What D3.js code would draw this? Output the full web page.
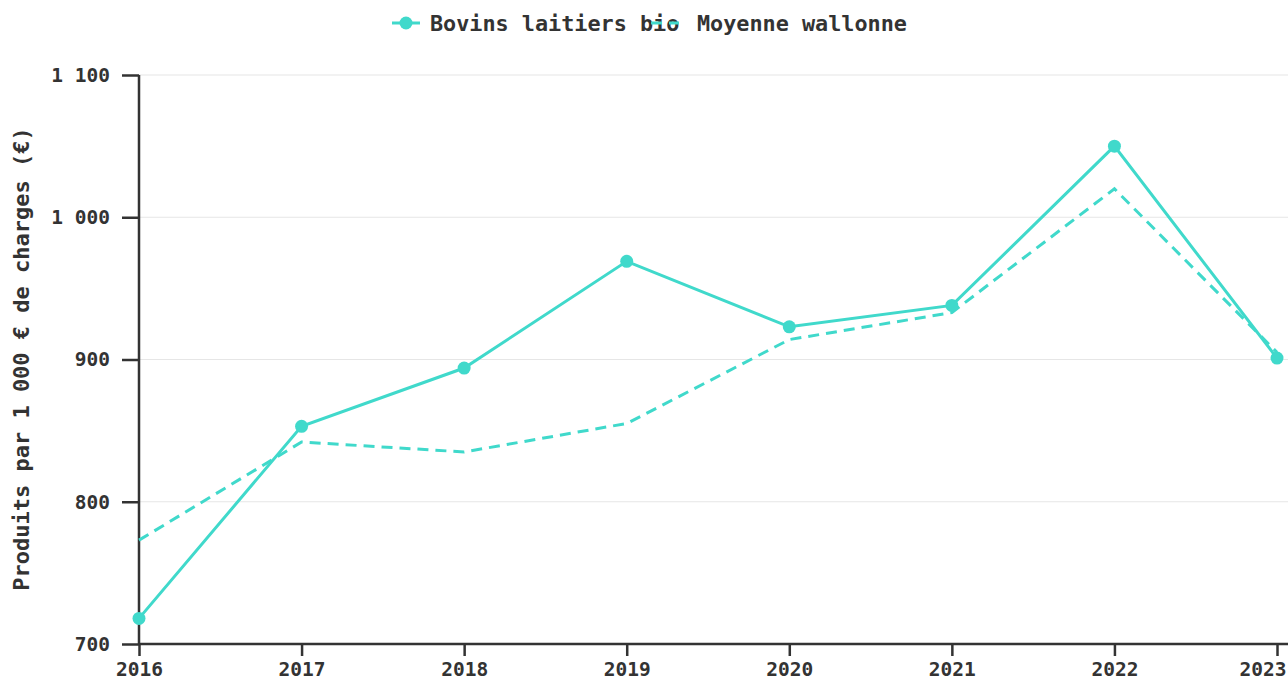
<!DOCTYPE html>
<html>
<head>
<meta charset="utf-8">
<script src="https://cdn.jsdelivr.net/npm/d3@7"></script>
<style>
    body { margin: 0; background: #fff; }
    svg text { font-family: "DejaVu Sans Mono", monospace; font-weight: bold; fill: #333; }
</style>
</head>
<body>
<script>
// data
const years = [2016, 2017, 2018, 2019, 2020, 2021, 2022, 2023];
const bioValues = [718, 853, 894, 969, 923, 938, 1050, 901];
const avgValues = [773, 842, 835, 855, 914, 933, 1020, 905];
const yTicks = [700, 800, 900, 1000, 1100];
const seriesNames = ["Bovins laitiers bio", "Moyenne wallonne"];

function init() {
    "use strict";

    const w = 1288;
    const h = 680;
    const color = "#40d9cb";
    const ink = "#333";

    const svg = d3.select("body")
        .append("svg")
            .attr("width", w)
            .attr("height", h);

    // scales
    const xScale = d3.scaleLinear()
        .domain([2016, 2023])
        .range([139, 1277]);
    const yScale = d3.scaleLinear()
        .domain([700, 1100])
        .range([644, 75]);

    const fr = d3.formatLocale({ decimal: ",", thousands: " ", grouping: [3], currency: ["", " €"] });
    const fmt = fr.format(",d");

    // gridlines
    svg.append("g")
        .selectAll("line")
        .data(yTicks.slice(1))
        .enter()
        .append("line")
            .attr("x1", 139)
            .attr("x2", w)
            .attr("y1", d => yScale(d))
            .attr("y2", d => yScale(d))
            .attr("stroke", "#e6e6e6")
            .attr("stroke-width", 1.2);

    // axes
    const xAxis = d3.axisBottom(xScale)
        .tickValues(years)
        .tickFormat(d3.format("d"))
        .tickSize(12)
        .tickPadding(6);
    const yAxis = d3.axisLeft(yScale)
        .tickValues(yTicks)
        .tickFormat(fmt)
        .tickSize(17)
        .tickPadding(12);

    const gx = svg.append("g")
        .attr("transform", "translate(0," + yScale(700) + ")")
        .call(xAxis);
    const gy = svg.append("g")
        .attr("transform", "translate(" + xScale(2016) + ",0)")
        .call(yAxis);

    gx.select(".domain").remove();
    gy.select(".domain").remove();
    [gx, gy].forEach(g => {
        g.selectAll(".tick line").attr("stroke", ink).attr("stroke-width", 2.5);
        g.selectAll(".tick text")
            .attr("fill", ink)
            .style("font-family", "'DejaVu Sans Mono', monospace")
            .style("font-weight", "bold")
            .style("font-size", "19.5px");
    });
    // keep the last year label inside the picture
    gx.selectAll(".tick text")
        .filter(d => d === years[years.length - 1])
        .attr("text-anchor", "end")
        .attr("x", w - 2 - xScale(2023));

    svg.append("line")
        .attr("x1", xScale(2016)).attr("x2", w)
        .attr("y1", yScale(700)).attr("y2", yScale(700))
        .attr("stroke", ink).attr("stroke-width", 2.5);
    svg.append("line")
        .attr("x1", xScale(2016)).attr("x2", xScale(2016))
        .attr("y1", yScale(1100)).attr("y2", yScale(700) + 1)
        .attr("stroke", ink).attr("stroke-width", 2.5);

    // y label
    svg.append("text")
        .attr("transform", "translate(29," + 359 + ") rotate(-90)")
        .attr("text-anchor", "middle")
        .style("font-size", "22px")
        .text("Produits par 1 000 € de charges (€)");

    // lines
    const line = d3.line()
        .x(d => xScale(d[0]))
        .y(d => yScale(d[1]));

    svg.append("path")
        .datum(years.map((y, i) => [y, avgValues[i]]))
        .attr("d", line)
        .attr("fill", "none")
        .attr("stroke", color)
        .attr("stroke-width", 3)
        .attr("stroke-dasharray", "11,7");

    svg.append("path")
        .datum(years.map((y, i) => [y, bioValues[i]]))
        .attr("d", line)
        .attr("fill", "none")
        .attr("stroke", color)
        .attr("stroke-width", 3);

    svg.selectAll("circle.bio")
        .data(years.map((y, i) => [y, bioValues[i]]))
        .enter()
        .append("circle")
            .attr("class", "bio")
            .attr("cx", d => xScale(d[0]))
            .attr("cy", d => yScale(d[1]))
            .attr("r", 6.5)
            .attr("fill", color);

    // legend
    const lg = svg.append("g");
    lg.append("line")
        .attr("x1", 392).attr("x2", 420).attr("y1", 23).attr("y2", 23)
        .attr("stroke", color).attr("stroke-width", 3);
    lg.append("circle")
        .attr("cx", 406).attr("cy", 23).attr("r", 6.5).attr("fill", color);
    lg.append("text")
        .attr("x", 430).attr("y", 23).attr("dy", "0.35em")
        .style("font-size", "21.8px")
        .text(seriesNames[0]);
    lg.append("line")
        .attr("x1", 651).attr("x2", 679).attr("y1", 23).attr("y2", 23)
        .attr("stroke", color).attr("stroke-width", 3)
        .attr("stroke-dasharray", "11,7");
    lg.append("text")
        .attr("x", 697).attr("y", 23).attr("dy", "0.35em")
        .style("font-size", "21.8px")
        .text(seriesNames[1]);
}

window.onload = init;
</script>
</body>
</html>
